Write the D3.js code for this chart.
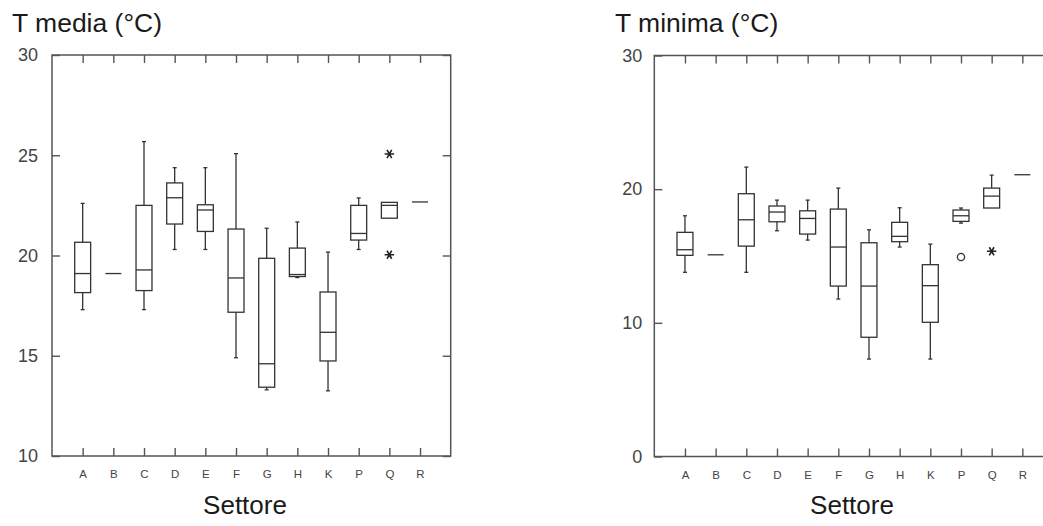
<!DOCTYPE html>
<html>
<head>
<meta charset="utf-8">
<script src="https://cdn.jsdelivr.net/npm/d3@7"></script>
<style>
  html, body { margin: 0; padding: 0; background: #fff; }
  svg { display: block; font-family: "Liberation Sans", Arial, Helvetica, sans-serif; }
</style>
</head>
<body>
<svg id="chart" width="1043" height="526"></svg>
<script>
// ---------- DATA ----------
const categories = ["A","B","C","D","E","F","G","H","K","P","Q","R"];

// T media (°C)
const mediaLow    = [17.3, 19.1, 17.3, 20.3, 20.3, 14.9, 13.3, 18.9, 13.25, 20.3, 21.86, 22.67];
const mediaQ1     = [18.15, 19.1, 18.25, 21.57, 21.2, 17.17, 13.43, 18.95, 14.74, 20.77, 21.86, 22.67];
const mediaMedian = [19.1, 19.1, 19.28, 22.88, 22.27, 18.88, 14.6, 19.05, 16.17, 21.1, 22.5, 22.67];
const mediaQ3     = [20.66, 19.1, 22.5, 23.62, 22.53, 21.32, 19.86, 20.37, 18.18, 22.5, 22.65, 22.67];
const mediaHigh   = [22.6, 19.1, 25.68, 24.38, 24.38, 25.08, 21.36, 21.67, 20.17, 22.87, 22.65, 22.67];
const mediaOutCat = ["Q", "Q"];
const mediaOutVal = [25.06, 20.04];
const mediaOutSym = ["star", "star"];
const mediaTicks  = [10, 15, 20, 25, 30];

// T minima (°C)
const minimaLow    = [13.78, 15.09, 13.78, 16.89, 16.19, 11.78, 7.29, 15.67, 7.29, 17.46, 18.59, 21.08];
const minimaQ1     = [15.05, 15.09, 15.74, 17.56, 16.64, 12.75, 8.92, 16.07, 10.04, 17.59, 18.59, 21.08];
const minimaMedian = [15.47, 15.09, 17.71, 18.29, 17.81, 15.67, 12.75, 16.47, 12.78, 18.01, 19.48, 21.08];
const minimaQ3     = [16.77, 15.09, 19.66, 18.74, 18.38, 18.51, 15.99, 17.52, 14.35, 18.44, 20.08, 21.08];
const minimaHigh   = [18.01, 15.09, 21.65, 19.18, 19.18, 20.08, 16.96, 18.61, 15.89, 18.59, 21.05, 21.08];
const minimaOutCat = ["P", "Q"];
const minimaOutVal = [14.92, 15.35];
const minimaOutSym = ["circle", "star"];
const minimaTicks  = [0, 10, 20, 30];

const xAxisTitle = "Settore";

// ---------- DRAW ----------
const svg = d3.select("#chart");
const lineColor = "#333";
const frameColor = "#555";

function panel(opts) {
  const g = svg.append("g");
  const {x0, x1, y0, y1} = opts;
  const slots = ["", ...categories, " "];
  const x = d3.scalePoint().domain(slots).range([x0, x1]);
  const y = d3.scaleLinear().domain(opts.domain).range([y1, y0]);
  const boxW = x.step() * 0.52;

  // frame
  g.append("rect").attr("x", x0).attr("y", y0).attr("width", x1 - x0).attr("height", y1 - y0)
    .attr("fill", "none").attr("stroke", frameColor).attr("stroke-width", 1.5);

  const xb = d3.axisBottom(x).tickValues(categories).tickSizeInner(-8).tickSizeOuter(0).tickPadding(14);
  const gxb = g.append("g").attr("transform", `translate(0,${y1})`).call(xb);
  const xt = d3.axisTop(x).tickValues(categories).tickSizeInner(-8).tickSizeOuter(0).tickFormat("");
  const gxt = g.append("g").attr("transform", `translate(0,${y0})`).call(xt);

  const yl = d3.axisLeft(y).tickValues(opts.ticks).tickSizeInner(-8).tickSizeOuter(0).tickPadding(opts.ypad).tickFormat(d3.format("d"));
  const gyl = g.append("g").attr("transform", `translate(${x0},0)`).call(yl);
  const yr = d3.axisRight(y).tickValues(opts.ticks).tickSizeInner(-8).tickSizeOuter(0).tickFormat("");
  const gyr = g.append("g").attr("transform", `translate(${x1},0)`).call(yr);

  [gxb, gxt, gyl, gyr].forEach(a => {
    a.select(".domain").remove();
    a.selectAll(".tick line").attr("stroke", frameColor).attr("stroke-width", 1.4);
  });
  gxb.selectAll(".tick text").attr("font-size", 11.5).attr("fill", "#444")
     .attr("font-family", "'Liberation Sans', Arial, sans-serif");
  gyl.selectAll(".tick text").attr("font-size", 18).attr("fill", "#444")
     .attr("font-family", "'Liberation Sans', Arial, sans-serif");

  // boxes
  const data = categories.map((c, i) => ({
    c, lo: opts.low[i], q1: opts.q1[i], med: opts.med[i], q3: opts.q3[i], hi: opts.high[i]
  }));
  const bg = g.append("g").attr("stroke", lineColor).attr("stroke-width", 1.3).attr("fill", "none");
  data.forEach(d => {
    const cx = x(d.c);
    const single = d.lo === d.hi;
    if (single) {
      bg.append("line").attr("x1", cx - boxW / 2).attr("x2", cx + boxW / 2)
        .attr("y1", y(d.med)).attr("y2", y(d.med));
      return;
    }
    // whiskers
    if (d.hi > d.q3) {
      bg.append("line").attr("x1", cx).attr("x2", cx).attr("y1", y(d.q3)).attr("y2", y(d.hi));
      bg.append("line").attr("x1", cx - 2).attr("x2", cx + 2).attr("y1", y(d.hi)).attr("y2", y(d.hi));
    }
    if (d.lo < d.q1) {
      bg.append("line").attr("x1", cx).attr("x2", cx).attr("y1", y(d.q1)).attr("y2", y(d.lo));
      bg.append("line").attr("x1", cx - 2).attr("x2", cx + 2).attr("y1", y(d.lo)).attr("y2", y(d.lo));
    }
    bg.append("rect").attr("x", cx - boxW / 2).attr("y", y(d.q3))
      .attr("width", boxW).attr("height", Math.max(0.5, y(d.q1) - y(d.q3)));
    bg.append("line").attr("x1", cx - boxW / 2).attr("x2", cx + boxW / 2)
      .attr("y1", y(d.med)).attr("y2", y(d.med));
  });

  // outliers
  const starType = d3.symbolAsterisk || d3.symbolCross;
  opts.outCat.forEach((c, i) => {
    const cx = x(c), cy = y(opts.outVal[i]);
    if (opts.outSym[i] === "circle") {
      bg.append("circle").attr("cx", cx).attr("cy", cy).attr("r", 3.6).attr("stroke-width", 1.3);
    } else {
      bg.append("path").attr("transform", `translate(${cx},${cy}) rotate(90)`)
        .attr("d", d3.symbol(starType, 62)()).attr("stroke", "#222").attr("stroke-width", 1.6);
    }
  });

  // titles
  svg.append("text").attr("x", opts.titleX).attr("y", 32).attr("font-size", 26.5).attr("fill", "#1a1a1a")
    .text(opts.title);
  svg.append("text").attr("x", opts.xTitleX).attr("y", 514).attr("text-anchor", "middle")
    .attr("font-size", 26).attr("fill", "#1a1a1a").text(xAxisTitle);
}

panel({
  x0: 52, x1: 450.7, y0: 55, y1: 456, domain: [10, 30], ticks: mediaTicks, ypad: 14,
  low: mediaLow, q1: mediaQ1, med: mediaMedian, q3: mediaQ3, high: mediaHigh,
  outCat: mediaOutCat, outVal: mediaOutVal, outSym: mediaOutSym,
  title: "T media (°C)", titleX: 12, xTitleX: 245
});
panel({
  x0: 654.3, x1: 1053, y0: 55.5, y1: 456.5, domain: [0, 30], ticks: minimaTicks, ypad: 12,
  low: minimaLow, q1: minimaQ1, med: minimaMedian, q3: minimaQ3, high: minimaHigh,
  outCat: minimaOutCat, outVal: minimaOutVal, outSym: minimaOutSym,
  title: "T minima (°C)", titleX: 615, xTitleX: 852
});
</script>
</body>
</html>
